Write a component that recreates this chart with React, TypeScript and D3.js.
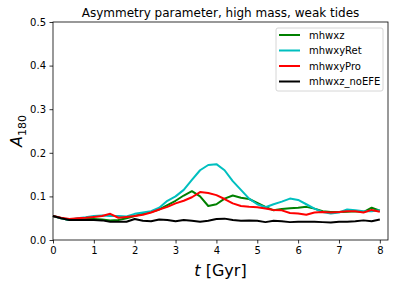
import React, { useEffect, useRef } from "react";
import * as d3 from "d3";

// time grid [Gyr]
const times = d3.range(0, 41).map((i) => +(i * 0.2).toFixed(1));

const mhwxz = [
  0.055, 0.05, 0.046, 0.047, 0.048, 0.048, 0.047, 0.045, 0.046, 0.05, 0.055,
  0.06, 0.064, 0.07, 0.08, 0.09, 0.102, 0.112, 0.1, 0.078, 0.082, 0.095, 0.102,
  0.097, 0.094, 0.085, 0.076, 0.068, 0.071, 0.073, 0.074, 0.076, 0.072, 0.066,
  0.064, 0.064, 0.065, 0.066, 0.064, 0.074, 0.067,
];
const mhwxyRet = [
  0.055, 0.05, 0.046, 0.05, 0.052, 0.055, 0.056, 0.055, 0.055, 0.054, 0.06,
  0.063, 0.066, 0.074, 0.09, 0.1, 0.115, 0.138, 0.16, 0.172, 0.174, 0.16,
  0.135, 0.115, 0.095, 0.082, 0.075, 0.082, 0.088, 0.095, 0.092, 0.082, 0.072,
  0.064, 0.061, 0.063, 0.07, 0.068, 0.066, 0.066, 0.068,
];
const mhwxyPro = [
  0.055, 0.051, 0.048, 0.05, 0.051, 0.053, 0.055, 0.06, 0.051, 0.053, 0.055,
  0.058, 0.063, 0.07, 0.076, 0.084, 0.09, 0.098, 0.11, 0.108, 0.103, 0.094,
  0.084, 0.078, 0.076, 0.075, 0.072, 0.069, 0.068, 0.062, 0.061, 0.058, 0.063,
  0.064, 0.063, 0.064, 0.066, 0.066, 0.063, 0.069, 0.065,
];
const mhwxzNoEFE = [
  0.055, 0.05, 0.046, 0.046, 0.046, 0.046, 0.045, 0.042, 0.042, 0.042, 0.048,
  0.044, 0.043, 0.047, 0.046, 0.043, 0.046, 0.044, 0.042, 0.044, 0.048, 0.049,
  0.046, 0.044, 0.045, 0.044, 0.041, 0.044, 0.043, 0.041, 0.042, 0.042, 0.042,
  0.041, 0.04, 0.042, 0.042, 0.043, 0.045, 0.043, 0.047,
];

const seriesNames = ["mhwxz", "mhwxyRet", "mhwxyPro", "mhwxz_noEFE"];
const seriesColors = ["#008000", "#00bfbf", "#ff0000", "#000000"];
const seriesValues = [mhwxz, mhwxyRet, mhwxyPro, mhwxzNoEFE];

const xTicks = [0, 1, 2, 3, 4, 5, 6, 7, 8];
const yTicks = [0, 0.1, 0.2, 0.3, 0.4, 0.5];

const width = 398;
const height = 287;
const margin = { top: 22, right: 10, bottom: 47, left: 53 };

const App = () => {
  const svgRef = useRef<SVGSVGElement>(null);

  useEffect(() => {
    const svg = d3.select(svgRef.current);
    svg.selectAll("*").remove();
    const font = "DejaVu Sans, sans-serif";

    const x = d3
      .scaleLinear()
      .domain([0, 8.2])
      .range([margin.left, width - margin.right]);
    const y = d3
      .scaleLinear()
      .domain([0, 0.5])
      .range([height - margin.bottom, margin.top]);

    // lines
    const line = d3
      .line<number>()
      .x((d, i) => x(times[i]))
      .y((d) => y(d));

    const plot = svg.append("g");
    seriesValues.forEach((vals, k) => {
      plot
        .append("path")
        .datum(vals)
        .attr("fill", "none")
        .attr("stroke", seriesColors[k])
        .attr("stroke-width", 2)
        .attr("stroke-linejoin", "round")
        .attr("d", line);
    });

    // axes
    const xAxis = svg
      .append("g")
      .attr("transform", `translate(0, ${height - margin.bottom})`)
      .call(
        d3
          .axisBottom(x)
          .tickValues(xTicks)
          .tickSize(3.5)
          .tickPadding(3.5)
          .tickFormat(d3.format("d"))
      );
    const yAxis = svg
      .append("g")
      .attr("transform", `translate(${margin.left}, 0)`)
      .call(
        d3
          .axisLeft(y)
          .tickValues(yTicks)
          .tickSize(3.5)
          .tickPadding(3.5)
          .tickFormat(d3.format(".1f"))
      );
    [xAxis, yAxis].forEach((a) => {
      a.select(".domain").remove();
      a.selectAll("text")
        .style("font-family", font)
        .style("font-size", "10px")
        .attr("fill", "#000");
      a.selectAll("line").attr("stroke", "#000").attr("stroke-width", 0.8);
    });

    // frame
    svg
      .append("rect")
      .attr("x", margin.left)
      .attr("y", margin.top)
      .attr("width", width - margin.left - margin.right)
      .attr("height", height - margin.top - margin.bottom)
      .attr("fill", "none")
      .attr("stroke", "#000")
      .attr("stroke-width", 0.8);

    // title
    svg
      .append("text")
      .attr("x", (margin.left + width - margin.right) / 2)
      .attr("y", 17)
      .attr("text-anchor", "middle")
      .style("font-family", font)
      .style("font-size", "12px")
      .text("Asymmetry parameter, high mass, weak tides");

    // x label
    const xl = svg
      .append("text")
      .attr("x", (margin.left + width - margin.right) / 2)
      .attr("y", 276)
      .attr("text-anchor", "middle")
      .style("font-family", font)
      .style("font-size", "16px");
    xl.append("tspan").style("font-style", "italic").text("t");
    xl.append("tspan").text(" [Gyr]");

    // y label
    const yl = svg
      .append("text")
      .attr("transform", `translate(22, ${(margin.top + height - margin.bottom) / 2}) rotate(-90)`)
      .attr("text-anchor", "middle")
      .style("font-family", font)
      .style("font-size", "16px");
    yl.append("tspan").style("font-style", "italic").text("A");
    yl.append("tspan")
      .attr("dy", 4)
      .style("font-size", "11px")
      .text("180");

    // legend
    const lg = svg.append("g").attr("transform", "translate(276, 28)");
    lg.append("rect")
      .attr("width", 107)
      .attr("height", 63)
      .attr("rx", 2)
      .attr("fill", "#fff")
      .attr("fill-opacity", 0.8)
      .attr("stroke", "#ccc")
      .attr("stroke-width", 0.8);
    seriesNames.forEach((name, k) => {
      const yy = 7 + k * 15.5;
      lg.append("line")
        .attr("x1", 3)
        .attr("x2", 24)
        .attr("y1", yy)
        .attr("y2", yy)
        .attr("stroke", seriesColors[k])
        .attr("stroke-width", 2);
      lg.append("text")
        .attr("x", 33)
        .attr("y", yy + 3.5)
        .style("font-family", font)
        .style("font-size", "10px")
        .text(name);
    });
  }, []);

  return (
    <svg
      ref={svgRef}
      width={width}
      height={height}
      style={{ position: "absolute", left: 0, top: 0, background: "#fff" }}
    ></svg>
  );
};

export default App;
